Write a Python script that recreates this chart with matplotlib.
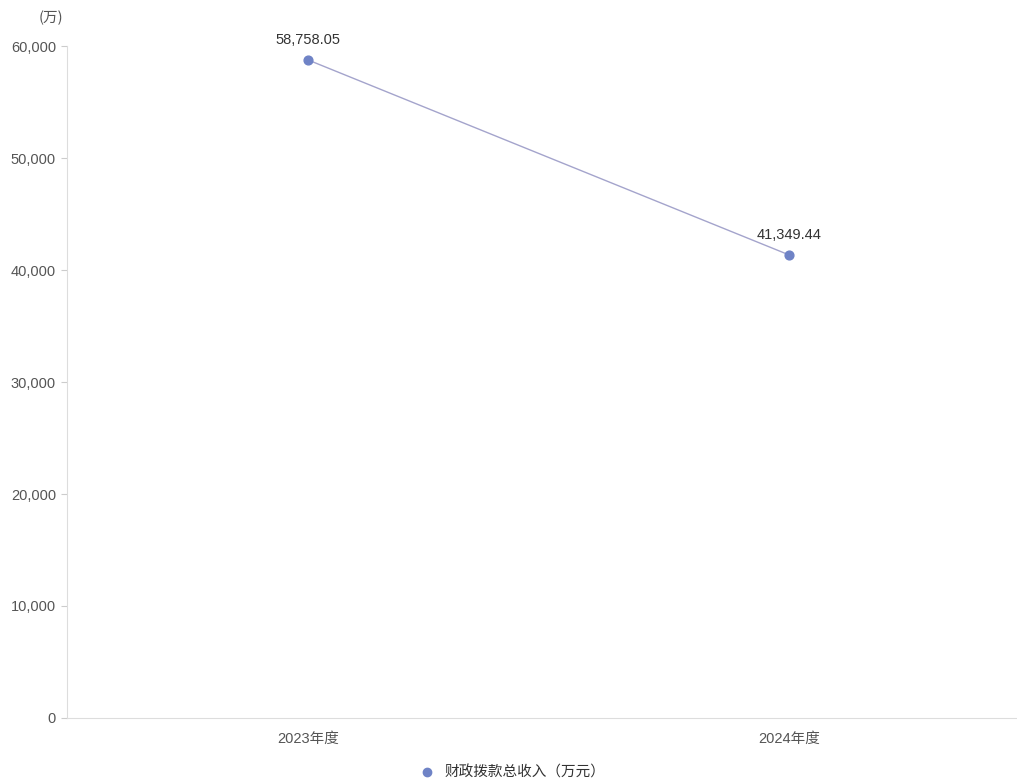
import matplotlib
matplotlib.use("Agg")
import matplotlib.pyplot as plt
from matplotlib.lines import Line2D

plt.rcParams['font.family'] = ['Liberation Sans', 'Noto Sans CJK SC', 'DejaVu Sans']

categories = ["2023年度", "2024年度"]
values = [58758.05, 41349.44]
value_labels = ["58,758.05", "41,349.44"]
yticks = [0, 10000, 20000, 30000, 40000, 50000, 60000]
series_name = "财政拨款总收入（万元）"

fig = plt.figure(figsize=(10.17, 7.80), dpi=100)
ax = fig.add_axes([0.0659, 0.0795, 0.9341, 0.8615])

xs = list(range(len(categories)))
ax.plot(xs, values, color="#a4a4cc", linewidth=1.0, zorder=2)
ax.scatter(xs, values, s=40, color="#6f83c6", zorder=3)
for x, v, lab in zip(xs, values, value_labels):
    ax.annotate(lab, (x, v), xytext=(0, 9), textcoords="offset points",
                ha="center", va="bottom", fontsize=10.5, color="#333333")

ax.set_xlim(-0.501, 1.474)
ax.set_ylim(0, 60000)
ax.set_xticks(xs)
ax.set_xticklabels(categories)
ax.set_yticks(yticks)
ax.set_yticklabels([f"{t:,}" for t in yticks])
ax.tick_params(axis="x", length=0, pad=10, labelsize=10.5, labelcolor="#555555")
ax.tick_params(axis="y", length=4, color="#cccccc", pad=4, labelsize=10.5, labelcolor="#555555")

for s in ["top", "right"]:
    ax.spines[s].set_visible(False)
ax.spines["left"].set_color("#dddddd")
ax.spines["bottom"].set_color("#dddddd")

fig.text(0.038, 0.977, "(万)", fontsize=10.5, color="#555555", ha="left", va="center",
         family=['Noto Sans CJK SC', 'DejaVu Sans'])

handle = Line2D([], [], marker="o", linestyle="none", color="#6f83c6", markersize=6)
fig.legend([handle], [series_name], loc="center", bbox_to_anchor=(0.5, 0.009),
           frameon=False, handletextpad=0.2, labelcolor="#333333",
           prop={'family': ['Noto Sans CJK SC', 'DejaVu Sans'], 'size': 10.5})

fig.savefig("out.png", dpi=100)
